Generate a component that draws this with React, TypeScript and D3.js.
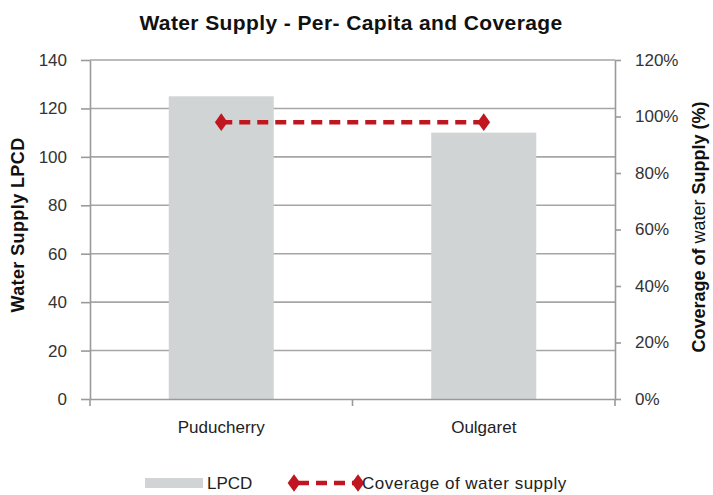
import React, { useEffect, useRef } from "react";
import * as d3 from "d3";

const cities = ["Puducherry", "Oulgaret"];
const lpcd = [125, 110];
const coverage = [0.98, 0.98];
const leftTicks = [0, 20, 40, 60, 80, 100, 120, 140];
const rightTicks = [0, 0.2, 0.4, 0.6, 0.8, 1.0, 1.2];

const FONT = "'Liberation Sans', Arial, sans-serif";

export default function App() {
  const ref = useRef<SVGSVGElement>(null);

  useEffect(() => {
    if (!ref.current) return;
    const svg = d3.select(ref.current);
    svg.selectAll("*").remove();

    const left = 90, right = 615, top = 60, bottom = 399;

    const x = d3.scaleBand().domain(cities).range([left, right]).paddingInner(0.6).paddingOuter(0.3);
    const y = d3.scaleLinear().domain([0, 140]).range([bottom, top]);
    const y2 = d3.scaleLinear().domain([0, 1.2]).range([bottom, top]);

    // gridlines behind the bars
    svg
      .append("g")
      .selectAll("line")
      .data(leftTicks.filter((d) => d > 0))
      .enter()
      .append("line")
      .attr("x1", left)
      .attr("x2", right)
      .attr("y1", (d) => y(d))
      .attr("y2", (d) => y(d))
      .attr("stroke", "#a6a6a6")
      .attr("stroke-width", 1.6);

    // bars
    svg
      .append("g")
      .selectAll("rect")
      .data(cities)
      .enter()
      .append("rect")
      .attr("x", (d) => x(d) as number)
      .attr("width", x.bandwidth())
      .attr("y", (d, i) => y(lpcd[i]))
      .attr("height", (d, i) => bottom - y(lpcd[i]))
      .attr("fill", "#d0d4d4");

    const axisColor = "#9a9a9a";

    // left axis
    const gl = svg
      .append("g")
      .attr("transform", `translate(${left},0)`)
      .call(d3.axisLeft(y).tickValues(leftTicks).tickSize(9).tickPadding(14).tickSizeOuter(0));
    gl.select(".domain").attr("stroke", axisColor).attr("stroke-width", 1.6);
    gl.selectAll(".tick line").attr("stroke", axisColor).attr("stroke-width", 1.6);
    gl.selectAll(".tick text").attr("fill", "#333").style("font-size", "17px").style("font-family", FONT);

    // right axis
    const gr = svg
      .append("g")
      .attr("transform", `translate(${right},0)`)
      .call(
        d3
          .axisRight(y2)
          .tickValues(rightTicks)
          .tickFormat(d3.format(".0%"))
          .tickSize(6)
          .tickPadding(14)
          .tickSizeOuter(0)
      );
    gr.select(".domain").attr("stroke", axisColor).attr("stroke-width", 1.6);
    gr.selectAll(".tick line").attr("stroke", axisColor).attr("stroke-width", 1.6);
    gr.selectAll(".tick text").attr("fill", "#333").style("font-size", "17px").style("font-family", FONT);

    // bottom axis
    const gb = svg
      .append("g")
      .attr("transform", `translate(0,${bottom})`)
      .call(d3.axisBottom(x).tickSize(0).tickPadding(22));
    gb.select(".domain").attr("stroke", axisColor).attr("stroke-width", 1.6);
    gb.selectAll(".tick text").attr("fill", "#222").style("font-size", "17px").style("font-family", FONT);

    // category separator ticks
    svg
      .append("g")
      .selectAll("line")
      .data([left, (left + right) / 2, right])
      .enter()
      .append("line")
      .attr("x1", (d) => d)
      .attr("x2", (d) => d)
      .attr("y1", bottom)
      .attr("y2", bottom + 7)
      .attr("stroke", axisColor)
      .attr("stroke-width", 1.6);

    // coverage line
    const red = "#c0161f";
    const line = d3
      .line<number>()
      .x((d, i) => (x(cities[i]) as number) + x.bandwidth() / 2)
      .y((d) => y2(d));
    svg
      .append("path")
      .datum(coverage)
      .attr("d", line)
      .attr("fill", "none")
      .attr("stroke", red)
      .attr("stroke-width", 4.5)
      .attr("stroke-dasharray", "11,7");

    const diamond = d3.symbol().type(d3.symbolDiamond).size(90);
    svg
      .append("g")
      .selectAll("path")
      .data(coverage)
      .enter()
      .append("path")
      .attr("d", diamond)
      .attr("transform", (d, i) => `translate(${(x(cities[i]) as number) + x.bandwidth() / 2},${y2(d)}) scale(1.25,1)`)
      .attr("fill", red);

    // title
    svg
      .append("text")
      .attr("x", 351)
      .attr("y", 30)
      .attr("text-anchor", "middle")
      .style("font-family", FONT)
      .style("font-weight", "bold")
      .style("font-size", "21px")
      .style("letter-spacing", "0.4px")
      .attr("fill", "#111")
      .text("Water  Supply - Per- Capita and Coverage");

    // axis titles
    svg
      .append("text")
      .attr("transform", `translate(24,225) rotate(-90)`)
      .attr("text-anchor", "middle")
      .style("font-family", FONT)
      .style("font-weight", "bold")
      .style("font-size", "18px")
      .style("letter-spacing", "0.4px")
      .attr("fill", "#111")
      .text("Water Supply LPCD");

    const rt = svg
      .append("text")
      .attr("transform", `translate(705,227) rotate(-90)`)
      .attr("text-anchor", "middle")
      .style("font-family", FONT)
      .style("font-weight", "bold")
      .style("font-size", "18px")
      .attr("fill", "#111");
    rt.append("tspan").text("Coverage of ");
    rt.append("tspan").style("font-weight", "normal").text("water");
    rt.append("tspan").text(" Supply (%)");

    // legend
    const lg = svg.append("g");
    lg.append("rect").attr("x", 145).attr("y", 478).attr("width", 58).attr("height", 10).attr("fill", "#d0d4d4");
    lg.append("text")
      .attr("x", 207)
      .attr("y", 489)
      .style("font-family", FONT)
      .style("font-size", "17px")
      .attr("fill", "#222")
      .text("LPCD");
    lg.append("line")
      .attr("x1", 294)
      .attr("x2", 358)
      .attr("y1", 483)
      .attr("y2", 483)
      .attr("stroke", red)
      .attr("stroke-width", 4.5)
      .attr("stroke-dasharray", "11,7")
      .attr("stroke-dashoffset", -4);
    [294, 358].forEach((cx) => {
      lg.append("path").attr("d", diamond).attr("transform", `translate(${cx},483) scale(1.25,1)`).attr("fill", red);
    });
    lg.append("text")
      .attr("x", 362)
      .attr("y", 489)
      .style("font-family", FONT)
      .style("font-size", "17px")
      .style("letter-spacing", "0.5px")
      .attr("fill", "#222")
      .text("Coverage of water supply");
  }, []);

  return (
    <div style={{ position: "absolute", left: 0, top: 0 }}>
      <svg ref={ref} width={713} height={495} style={{ display: "block", background: "#fff" }}></svg>
    </div>
  );
}
